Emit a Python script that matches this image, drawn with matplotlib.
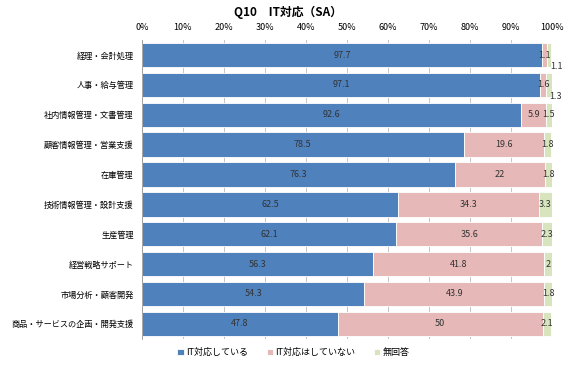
import matplotlib
matplotlib.use('Agg')
import matplotlib.pyplot as plt
import numpy as np

plt.rcParams['font.family'] = ['Noto Sans CJK JP', 'DejaVu Sans']

categories = ['経理・会計処理', '人事・給与管理', '社内情報管理・文書管理', '顧客情報管理・営業支援',
              '在庫管理', '技術情報管理・設計支援', '生産管理', '経営戦略サポート',
              '市場分析・顧客開発', '商品・サービスの企画・開発支援']
it_yes = [97.7, 97.1, 92.6, 78.5, 76.3, 62.5, 62.1, 56.3, 54.3, 47.8]
it_no = [1.1, 1.6, 5.9, 19.6, 22, 34.3, 35.6, 41.8, 43.9, 50]
no_answer = [1.1, 1.3, 1.5, 1.8, 1.8, 3.3, 2.3, 2, 1.8, 2.1]
series_names = ['IT対応している', 'IT対応はしていない', '無回答']
colors = ['#4F81BD', '#E6B9B8', '#D7E4BD']

fig = plt.figure(figsize=(5.7, 3.65), dpi=100)
ax = fig.add_axes([0.249, 0.072, 0.719, 0.818])

y = np.arange(len(categories))
left = np.zeros(len(categories))
for vals, name, c in zip([it_yes, it_no, no_answer], series_names, colors):
    ax.barh(y, vals, left=left, height=0.82, color=c, label=name,
            edgecolor='white', linewidth=0.6, zorder=2)
    left += np.array(vals)

def fmt(v):
    return f'{v:g}'

for i in range(len(categories)):
    ax.text(it_yes[i] / 2, i, fmt(it_yes[i]), ha='center', va='center', fontsize=6.5, color='#333333', zorder=3)
    ax.text(it_yes[i] + it_no[i] / 2, i, fmt(it_no[i]), ha='center', va='center', fontsize=6.5, color='#333333', zorder=3)
    gx = it_yes[i] + it_no[i] + no_answer[i] / 2
    if i < 2:
        # small values overlap, so the last label is pushed down and right
        ax.annotate(fmt(no_answer[i]), (gx, i), xytext=(5, -8), textcoords='offset points',
                    ha='center', va='center', fontsize=6.5, color='#333333', zorder=3)
    else:
        ax.text(gx, i, fmt(no_answer[i]), ha='center', va='center', fontsize=6.5, color='#333333', zorder=3)

ax.set_xlim(0, 100)
ax.set_ylim(len(categories) - 0.5, -0.5)
ax.set_xticks(np.arange(0, 101, 10))
ax.set_xticklabels([f'{t}%' for t in range(0, 101, 10)], fontsize=6.5)
ax.xaxis.tick_top()
ax.tick_params(axis='x', length=0, pad=6)
ax.set_yticks(y)
ax.set_yticklabels(categories, fontsize=5.9)
ax.tick_params(axis='y', length=0, pad=6)
ax.grid(axis='x', color='#BBBBBB', linewidth=0.6, zorder=0)
for s in ['top', 'right', 'bottom']:
    ax.spines[s].set_visible(False)
ax.spines['left'].set_color('#999999')
ax.spines['left'].set_linewidth(0.6)

fig.text(0.505, 0.965, 'Q10　IT対応（SA）', ha='center', va='center', fontsize=8.5, fontweight='bold')

fig.legend(loc='center', bbox_to_anchor=(0.515, 0.034), ncol=3, frameon=False,
           fontsize=6.5, handlelength=0.7, handleheight=0.7, handletextpad=0.3, columnspacing=2.0)

fig.savefig('out.png', dpi=100)
